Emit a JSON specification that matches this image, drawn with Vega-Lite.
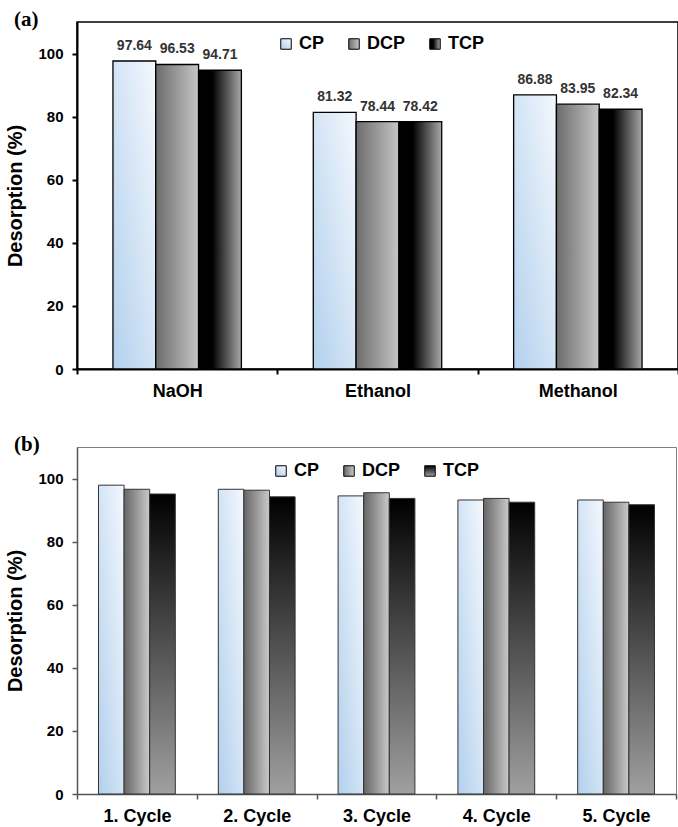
{
  "$schema": "https://vega.github.io/schema/vega-lite/v6.json",
  "padding": {"left": 5, "top": 8, "right": 0, "bottom": 0},
  "spacing": 32,
  "resolve": {"scale": {"color": "independent", "xOffset": "independent"}},
  "config": {
    "font": "Liberation Sans",
    "view": {"stroke": null},
    "axis": {
      "grid": false,
      "labelColor": "black",
      "titleColor": "black",
      "labelFontWeight": "bold",
      "titleFontWeight": "bold",
      "tickSize": 5
    },
    "legend": {
      "orient": "none",
      "direction": "horizontal",
      "title": null,
      "symbolType": "square",
      "symbolSize": 110,
      "labelFontSize": 18,
      "labelFontWeight": "bold",
      "labelColor": "black",
      "columnPadding": 20,
      "labelOffset": 4,
      "symbolStrokeColor": "black",
      "symbolStrokeWidth": 1
    }
  },
  "datasets": {
    "solvent": [
      {"solvent": "NaOH", "adsorbent": "CP", "desorption": 97.64},
      {"solvent": "NaOH", "adsorbent": "DCP", "desorption": 96.53},
      {"solvent": "NaOH", "adsorbent": "TCP", "desorption": 94.71},
      {"solvent": "Ethanol", "adsorbent": "CP", "desorption": 81.32},
      {"solvent": "Ethanol", "adsorbent": "DCP", "desorption": 78.44},
      {"solvent": "Ethanol", "adsorbent": "TCP", "desorption": 78.42},
      {"solvent": "Methanol", "adsorbent": "CP", "desorption": 86.88},
      {"solvent": "Methanol", "adsorbent": "DCP", "desorption": 83.95},
      {"solvent": "Methanol", "adsorbent": "TCP", "desorption": 82.34}
    ],
    "cycle": [
      {"cycle": "1. Cycle", "adsorbent": "CP", "desorption": 97.9},
      {"cycle": "1. Cycle", "adsorbent": "DCP", "desorption": 96.6},
      {"cycle": "1. Cycle", "adsorbent": "TCP", "desorption": 95.1},
      {"cycle": "2. Cycle", "adsorbent": "CP", "desorption": 96.6},
      {"cycle": "2. Cycle", "adsorbent": "DCP", "desorption": 96.3},
      {"cycle": "2. Cycle", "adsorbent": "TCP", "desorption": 94.2},
      {"cycle": "3. Cycle", "adsorbent": "CP", "desorption": 94.5},
      {"cycle": "3. Cycle", "adsorbent": "DCP", "desorption": 95.5},
      {"cycle": "3. Cycle", "adsorbent": "TCP", "desorption": 93.7},
      {"cycle": "4. Cycle", "adsorbent": "CP", "desorption": 93.2},
      {"cycle": "4. Cycle", "adsorbent": "DCP", "desorption": 93.7},
      {"cycle": "4. Cycle", "adsorbent": "TCP", "desorption": 92.5},
      {"cycle": "5. Cycle", "adsorbent": "CP", "desorption": 93.2},
      {"cycle": "5. Cycle", "adsorbent": "DCP", "desorption": 92.5},
      {"cycle": "5. Cycle", "adsorbent": "TCP", "desorption": 91.7}
    ]
  },
  "vconcat": [
    {
      "width": 601,
      "height": 347,
      "data": {"name": "solvent"},
      "title": {"text": "(a)", "anchor": "start", "frame": "bounds", "font": "Liberation Serif", "fontSize": 21, "fontWeight": "bold", "color": "black", "baseline": "top", "offset": -8, "dx": 8},
      "view": {"stroke": "black", "strokeWidth": 1.5},
      "encoding": {
        "x": {"field": "solvent", "type": "nominal", "sort": ["NaOH", "Ethanol", "Methanol"],
          "scale": {"paddingInner": 0, "paddingOuter": 0},
          "axis": {"title": null, "labelAngle": 0, "tickBand": "extent", "labelFontSize": 18, "labelPadding": 8, "domainColor": "black", "domainWidth": 2, "tickColor": "black", "tickWidth": 2}},
        "xOffset": {"field": "adsorbent", "type": "nominal", "sort": ["CP", "DCP", "TCP"], "scale": {"paddingInner": 0, "paddingOuter": 0.84}},
        "y": {"field": "desorption", "type": "quantitative", "scale": {"domain": [0, 110], "nice": false},
          "axis": {"title": "Desorption (%)", "values": [0, 20, 40, 60, 80, 100], "labelFontSize": 15, "labelPadding": 9, "titleFontSize": 20, "titlePadding": 12, "domainColor": "black", "domainWidth": 2, "tickColor": "black", "tickWidth": 2}}
      },
      "layer": [
        {
          "mark": {"type": "bar", "stroke": "black", "strokeWidth": 1.3},
          "encoding": {
            "color": {"field": "adsorbent", "type": "nominal",
              "scale": {"domain": ["CP", "DCP", "TCP"], "range": [
                {"expr": "{gradient: 'linear', x1: 0, y1: 1, x2: 1, y2: 0, stops: [{offset: 0, color: '#b2d0ed'}, {offset: 1, color: '#f4f8fd'}]}"},
                {"expr": "{gradient: 'linear', x1: 0, y1: 0, x2: 1, y2: 0, stops: [{offset: 0, color: '#6c6c6c'}, {offset: 1, color: '#c6c6c6'}]}"},
                {"expr": "{gradient: 'linear', x1: 0, y1: 0, x2: 1, y2: 0, stops: [{offset: 0, color: '#000000'}, {offset: 0.32, color: '#000000'}, {offset: 1, color: '#a8a8a8'}]}"}
              ]},
              "legend": {"legendX": 200, "legendY": 13}}
          }
        },
        {
          "mark": {"type": "text", "baseline": "alphabetic", "dy": -11, "fontSize": 14, "fontWeight": "bold", "color": "#333333"},
          "encoding": {"text": {"field": "desorption", "type": "quantitative", "format": ".2f"}}
        }
      ]
    },
    {
      "width": 599,
      "height": 347,
      "data": {"name": "cycle"},
      "title": {"text": "(b)", "anchor": "start", "frame": "bounds", "font": "Liberation Serif", "fontSize": 21, "fontWeight": "bold", "color": "black", "baseline": "top", "offset": -8, "dx": 8},
      "view": {"stroke": "#808080", "strokeWidth": 1},
      "encoding": {
        "x": {"field": "cycle", "type": "nominal",
          "scale": {"paddingInner": 0, "paddingOuter": 0},
          "axis": {"title": null, "labelAngle": 0, "tickBand": "extent", "labelFontSize": 18, "labelPadding": 8, "domainColor": "#555555", "domainWidth": 1.5, "tickColor": "#555555", "tickWidth": 1.5}},
        "xOffset": {"field": "adsorbent", "type": "nominal", "sort": ["CP", "DCP", "TCP"], "scale": {"paddingInner": 0, "paddingOuter": 0.84}},
        "y": {"field": "desorption", "type": "quantitative", "scale": {"domain": [0, 110], "nice": false},
          "axis": {"title": "Desorption (%)", "values": [0, 20, 40, 60, 80, 100], "labelFontSize": 15, "labelPadding": 9, "titleFontSize": 20, "titlePadding": 12, "domainColor": "#555555", "domainWidth": 1.5, "tickColor": "#555555", "tickWidth": 1.5}}
      },
      "layer": [
        {
          "mark": {"type": "bar", "stroke": "#333333", "strokeWidth": 1},
          "encoding": {
            "color": {"field": "adsorbent", "type": "nominal",
              "scale": {"domain": ["CP", "DCP", "TCP"], "range": [
                {"expr": "{gradient: 'linear', x1: 0, y1: 1, x2: 1, y2: 0, stops: [{offset: 0, color: '#b2d0ed'}, {offset: 1, color: '#f4f8fd'}]}"},
                {"expr": "{gradient: 'linear', x1: 0, y1: 0, x2: 1, y2: 0, stops: [{offset: 0, color: '#666666'}, {offset: 1, color: '#cacaca'}]}"},
                {"expr": "{gradient: 'linear', x1: 0, y1: 0, x2: 0, y2: 1, stops: [{offset: 0, color: '#000000'}, {offset: 1, color: '#a0a0a0'}]}"}
              ]},
              "legend": {"legendX": 195, "legendY": 15}}
          }
        }
      ]
    }
  ]
}
